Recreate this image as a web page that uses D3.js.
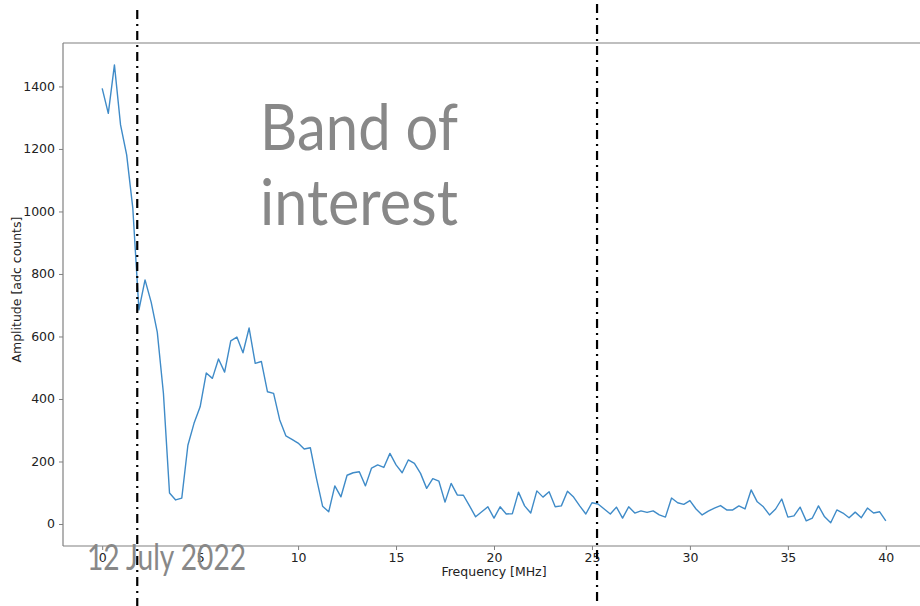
<!DOCTYPE html>
<html>
<head>
<meta charset="utf-8">
<script src="https://cdn.jsdelivr.net/npm/d3@7"></script>
<style>
  html, body { margin: 0; padding: 0; background: #fff; }
  svg { display: block; }
</style>
</head>
<body>
<svg id="chart" width="920" height="606"></svg>
<script>
// Spectrum sampled every 0.3125 MHz from 0 to 40 MHz
const freqStep = 0.3125;
const amplitude = [
  1394, 1314, 1469, 1277, 1181, 1011, 685, 781, 710, 614,
  419, 99, 77, 83, 252, 322, 375, 483, 466, 528,
  486, 586, 598, 548, 627, 514, 520, 423, 418, 333,
  282, 271, 259, 240, 244, 146, 57, 39, 122, 87,
  156, 164, 167, 122, 179, 189, 181, 226, 189, 164,
  205, 194, 162, 114, 145, 137, 70, 130, 93, 92,
  58, 23, 39, 55, 19, 55, 32, 33, 102, 58,
  35, 106, 86, 103, 55, 58, 105, 86, 58, 32,
  68, 64, 48, 32, 54, 19, 55, 35, 42, 37,
  42, 29, 22, 83, 68, 63, 75, 48, 29, 41,
  51, 59, 45, 45, 58, 48, 109, 71, 55, 29,
  48, 80, 22, 26, 54, 10, 19, 58, 23, 4,
  45, 35, 20, 38, 20, 51, 35, 39, 10
];
const frequency = amplitude.map((_, i) => i * freqStep);

// Edges of the band of interest, MHz
const bandEdges = [1.79, 25.26];

const xTicks = [0, 5, 10, 15, 20, 25, 30, 35, 40];
const yTicks = [0, 200, 400, 600, 800, 1000, 1200, 1400];

const xLabel = "Frequency [MHz]";
const yLabel = "Amplitude [adc counts]";
const bandText = ["Band of", "interest"];
const dateText = "12 July 2022";

const svg = d3.select("#chart");

const x = d3.scaleLinear().domain([-2, 42]).range([63, 925]);
const y = d3.scaleLinear().domain([-70.4, 1539]).range([546, 43]);

const axisColor = "#808080";
const tickFont = "'DejaVu Sans', sans-serif";

// Frame: left, top and bottom edges of the axes box
const frame = svg.append("g").attr("stroke", axisColor).attr("stroke-width", 1.2).attr("fill", "none");
frame.append("line").attr("x1", x.range()[0]).attr("x2", x.range()[0]).attr("y1", y.range()[1]).attr("y2", y.range()[0]);
frame.append("line").attr("x1", x.range()[0]).attr("x2", 920).attr("y1", y.range()[1]).attr("y2", y.range()[1]);
frame.append("line").attr("x1", x.range()[0]).attr("x2", 920).attr("y1", y.range()[0]).attr("y2", y.range()[0]);

// Axes
const xAxis = svg.append("g")
  .attr("transform", `translate(0,${y.range()[0]})`)
  .call(d3.axisBottom(x).tickValues(xTicks).tickSize(4).tickPadding(3).tickFormat(d3.format("d")));
const yAxis = svg.append("g")
  .attr("transform", `translate(${x.range()[0]},0)`)
  .call(d3.axisLeft(y).tickValues(yTicks).tickSize(4).tickPadding(4).tickFormat(d3.format("d")));

[xAxis, yAxis].forEach(g => {
  g.select(".domain").remove();
  g.selectAll(".tick line").attr("stroke", axisColor);
  g.selectAll(".tick text")
    .attr("fill", "#222")
    .style("font-family", tickFont)
    .style("font-size", "12.5px");
});

svg.append("text")
  .attr("x", x(20)).attr("y", 576)
  .attr("text-anchor", "middle")
  .style("font-family", tickFont).style("font-size", "12.5px").attr("fill", "#222")
  .text(xLabel);

svg.append("text")
  .attr("transform", `translate(21,${y(750)}) rotate(-90)`)
  .attr("text-anchor", "middle")
  .style("font-family", tickFont).style("font-size", "12.5px").attr("fill", "#222")
  .text(yLabel);

// Spectrum trace
const line = d3.line().x((d, i) => x(frequency[i])).y(d => y(d));
svg.append("path")
  .datum(amplitude)
  .attr("d", line)
  .attr("fill", "none")
  .attr("stroke", "#3f8bc8")
  .attr("stroke-width", 1.4)
  .attr("stroke-linejoin", "round");

// Band edges, dash-dot
svg.append("g").selectAll("line")
  .data(bandEdges)
  .join("line")
  .attr("x1", d => x(d)).attr("x2", d => x(d))
  .attr("y1", d => d < 10 ? 10 : 4).attr("y2", 606)
  .attr("stroke", "#000")
  .attr("stroke-width", 2.2)
  .attr("stroke-dasharray", "9,5,2,5");

// Overlay annotations
const overlayFont = "Lato, 'Open Sans', sans-serif";
const band = svg.append("text")
  .attr("x", 260).attr("y", 150)
  .style("font-family", overlayFont).style("font-size", "64px")
  .attr("fill", "#888");
band.selectAll("tspan")
  .data(bandText)
  .join("tspan")
  .attr("x", 260)
  .attr("dy", (d, i) => i === 0 ? 0 : 75)
  .attr("textLength", 198)
  .attr("lengthAdjust", "spacingAndGlyphs")
  .text(d => d);

svg.append("text")
  .attr("x", 87).attr("y", 570)
  .attr("textLength", 159).attr("lengthAdjust", "spacingAndGlyphs")
  .style("font-family", overlayFont).style("font-size", "36px")
  .attr("fill", "#888")
  .text(dateText);
</script>
</body>
</html>
